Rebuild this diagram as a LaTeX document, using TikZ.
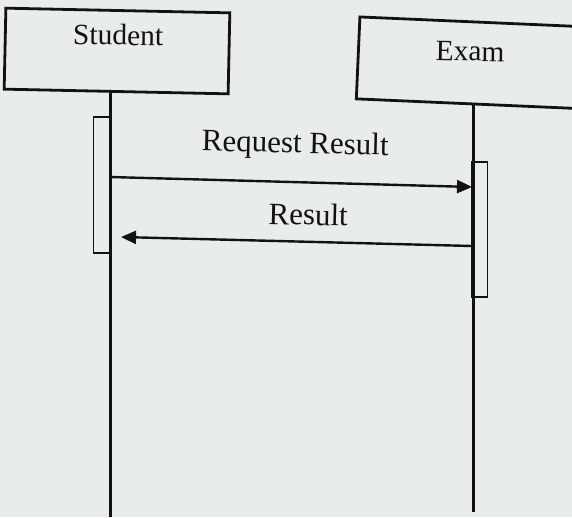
\documentclass[tikz,border=0pt]{standalone}
\usepackage{fontspec}
\setmainfont{Liberation Serif}
\usetikzlibrary{arrows.meta}
\definecolor{paper}{RGB}{233,236,236}
\definecolor{ink}{RGB}{18,18,18}
\begin{document}
\begin{tikzpicture}[x=1pt,y=1pt,
  objbox/.style={draw=ink, line width=2.8pt, fill=paper, inner sep=0pt},
  lifeline/.style={draw=ink, line width=3pt},
  actbar/.style={draw=ink, line width=1.8pt, inner sep=0pt, minimum width=16pt},
  msg/.style={draw=ink, line width=2.4pt, -{Triangle[length=15pt,width=13pt]}},
  lbl/.style={text=ink, inner sep=0pt, anchor=base},
  namefont/.style={font=\fontsize{29.5}{34}\selectfont},
  msgfont/.style={font=\fontsize{31}{36}\selectfont}]
\fill[paper] (0,0) rectangle (572,-517);
\clip (0,0) rectangle (572,-517);
\useasboundingbox (0,0) rectangle (572,-517);

% objects
\node[objbox, minimum width=224pt, minimum height=81pt, rotate=-1.2] (student) at (117,-51) {};
\node[lbl, namefont, rotate=-0.8] (studentname) at (118,-45) {Student};
\node[objbox, minimum width=234pt, minimum height=82pt, rotate=-2.5] (exam) at (475,-63) {};
\node[lbl, namefont, rotate=-1] (examname) at (470,-61) {Exam};

% lifelines
\coordinate (sEnd) at (110,-517);
\coordinate (eEnd) at (473,-512);
\draw[lifeline] (student.south -| sEnd) -- (sEnd);
\draw[lifeline] ([yshift=1pt]exam.south -| eEnd) -- (eEnd);

% activation bars
\node[actbar, minimum height=136pt] (sAct) at (101.5,-185) {};
\node[actbar, minimum height=135pt] (eAct) at (479.5,-229.5) {};

% messages
\coordinate (m1from) at (110,-177);
\coordinate (m1to) at (472,-187);
\coordinate (m2from) at (472,-246);
\coordinate (m2to) at (121,-237);
\draw[msg] (m1from) -- (m1to);
\draw[msg] (m2from) -- (m2to);
\node[lbl, msgfont, rotate=-1.4] (m1label) at (295,-153) {Request Result};
\node[lbl, msgfont, rotate=-1.4] (m2label) at (308,-225) {Result};
\end{tikzpicture}
\end{document}
